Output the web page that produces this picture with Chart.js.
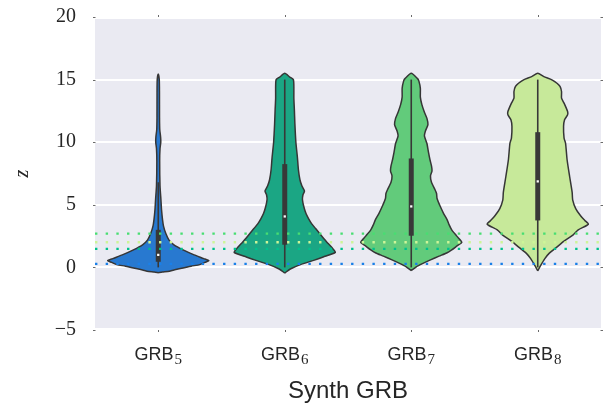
<!DOCTYPE html>
<html>
<head>
<meta charset="utf-8">
<script src="https://cdn.jsdelivr.net/npm/chart.js@4.4.1/dist/chart.umd.min.js"></script>
<style>
  html, body { margin: 0; padding: 0; background: #ffffff; }
  #wrap { width: 611px; height: 408px; }
</style>
</head>
<body>
<div id="wrap"><canvas id="chart" width="611" height="408"></canvas></div>
<script>
// Categories on the x axis (name + subscript index)
const categoryNames = ['GRB', 'GRB', 'GRB', 'GRB'];
const categorySubs = ['5', '6', '7', '8'];

// y tick values and labels
const yTickValues = [-5, 0, 5, 10, 15, 20];
const yTickLabels = ['\u22125', '0', '5', '10', '15', '20'];

// Kernel density profiles: redshift levels and relative density (1 = widest point)
const grb5Levels  = [15.45, 15.0, 14.0, 12.0, 11.0, 10.4, 10.0, 9.5, 8.5, 6.5, 5.4, 4.6, 3.8, 3.3, 2.7, 2.2, 1.8, 1.4, 1.0, 0.7, 0.53, 0.4, 0.22, 0.1, -0.05, -0.2, -0.3, -0.37, -0.42];
const grb5Density = [0, 0.02, 0.024, 0.025, 0.03, 0.047, 0.05, 0.035, 0.028, 0.035, 0.053, 0.065, 0.085, 0.104, 0.15, 0.21, 0.31, 0.49, 0.71, 0.9, 1.0, 0.92, 0.82, 0.65, 0.49, 0.31, 0.22, 0.08, 0];

const grb6Levels  = [15.5, 15.2, 15.0, 14.5, 13.5, 12.6, 11.5, 10.0, 8.8, 7.8, 7.0, 6.5, 6.1, 5.8, 5.4, 4.8, 4.3, 3.9, 3.5, 3.1, 2.7, 2.3, 1.9, 1.5, 1.2, 0.83, 0.56, 0.22, -0.13, -0.45];
const grb6Density = [0, 0.1, 0.17, 0.18, 0.18, 0.19, 0.2, 0.22, 0.25, 0.27, 0.3, 0.34, 0.39, 0.36, 0.35, 0.38, 0.42, 0.47, 0.53, 0.61, 0.69, 0.77, 0.86, 0.95, 1.0, 0.76, 0.57, 0.31, 0.11, 0];

const grb7Levels  = [15.5, 15.1, 14.9, 14.3, 13.6, 13.0, 12.4, 11.9, 11.4, 10.9, 10.5, 9.9, 9.2, 8.6, 8.1, 7.7, 7.3, 6.8, 6.2, 5.9, 5.5, 4.9, 4.3, 3.8, 3.4, 3.0, 2.5, 2.0, 1.7, 1.4, 1.15, 0.9, 0.6, 0.3, 0.05, -0.25];
const grb7Density = [0, 0.12, 0.15, 0.18, 0.18, 0.21, 0.26, 0.31, 0.33, 0.28, 0.26, 0.31, 0.34, 0.37, 0.4, 0.41, 0.38, 0.4, 0.47, 0.5, 0.51, 0.57, 0.64, 0.71, 0.75, 0.8, 0.9, 1.0, 0.9, 0.8, 0.7, 0.55, 0.38, 0.22, 0.1, 0];

const grb8Levels  = [15.51, 15.24, 14.98, 14.71, 14.45, 14.05, 13.52, 13.12, 12.45, 12.19, 11.79, 11.25, 10.33, 9.9, 8.6, 7.26, 6.0, 5.4, 4.7, 4.1, 3.75, 3.45, 3.0, 2.6, 2.1, 1.6, 1.1, 0.7, 0.1, -0.28];
const grb8Density = [0, 0.12, 0.28, 0.38, 0.44, 0.47, 0.47, 0.52, 0.59, 0.59, 0.53, 0.51, 0.52, 0.55, 0.58, 0.63, 0.68, 0.69, 0.75, 0.85, 0.93, 1.0, 0.8, 0.7, 0.52, 0.37, 0.22, 0.14, 0.05, 0];

// Box summaries per category
const whiskerLow  = [0.0, 0.0, 0.0, 0.0];
const quartile1   = [0.45, 1.81, 2.53, 3.75];
const medians     = [1.0, 4.07, 4.87, 6.87];
const quartile3   = [3.0, 8.25, 8.7, 10.8];
const whiskerHigh = [6.8, 15.0, 15.0, 15.0];

// Reference redshift per category (dotted horizontal lines)
const thresholdValues = [0.28, 1.48, 2.70, 2.01];

// Styling
const violinFill = ['#2879d0', '#1ba684', '#62cb7b', '#c7e99a'];
const lineColors = ['#1a80e8', '#00c08c', '#48de72', '#cdf598'];
const halfWidth = 0.4;
const edgeColor = '#363636';

const profiles = [
  [grb5Levels, grb5Density],
  [grb6Levels, grb6Density],
  [grb7Levels, grb7Density],
  [grb8Levels, grb8Density]
];

function violinOutline(idx) {
  const [levels, dens] = profiles[idx];
  const pts = [];
  // right side, bottom to top
  for (let k = levels.length - 1; k >= 0; k--) pts.push({x: idx + dens[k] * halfWidth, y: levels[k]});
  // left side, top to bottom
  for (let k = 1; k < levels.length; k++) pts.push({x: idx - dens[k] * halfWidth, y: levels[k]});
  return pts;
}

const datasets = [];
profiles.forEach((p, i) => {
  datasets.push({
    data: violinOutline(i), showLine: true, fill: 'shape',
    backgroundColor: violinFill[i], borderColor: edgeColor, borderWidth: 1.5,
    tension: 0.2, pointRadius: 0, order: 10
  });
  datasets.push({
    data: [{x: i, y: whiskerLow[i]}, {x: i, y: whiskerHigh[i]}], showLine: true,
    borderColor: '#383838', borderWidth: 1.6, pointRadius: 0, order: 8
  });
  datasets.push({
    data: [{x: i, y: quartile1[i]}, {x: i, y: quartile3[i]}], showLine: true,
    borderColor: '#383838', borderWidth: 5, borderCapStyle: 'butt', pointRadius: 0, order: 7
  });
  datasets.push({
    data: [{x: i, y: medians[i]}], showLine: false,
    pointStyle: 'rect', pointRadius: 1.6, backgroundColor: '#ffffff', borderWidth: 0, order: 6
  });
});
thresholdValues.forEach((v, i) => {
  datasets.push({
    data: [{x: -0.5, y: v}, {x: 3.5, y: v}], showLine: true,
    borderColor: lineColors[i], borderWidth: 2.4, borderDash: [2.4, 8.27], borderCapStyle: 'butt',
    pointRadius: 0, order: 1
  });
});

const panelPlugin = {
  id: 'panel',
  beforeDraw(chart) {
    const {ctx, chartArea: a} = chart;
    ctx.save();
    ctx.fillStyle = '#eaeaf2';
    ctx.fillRect(a.left, a.top + 2, a.right - a.left, a.bottom - a.top - 4);
    ctx.restore();
  },
  afterDraw(chart) {
    const {ctx, chartArea: a} = chart;
    const xs = chart.scales.x, ys = chart.scales.y;
    ctx.save();
    // small outer tick marks on all four sides
    ctx.strokeStyle = '#6a6a6a';
    ctx.lineWidth = 1;
    yTickValues.forEach(v => {
      const py = Math.round(ys.getPixelForValue(v)) + 0.5;
      ctx.beginPath();
      ctx.moveTo(a.left - 2, py); ctx.lineTo(a.left + 0.5, py);
      ctx.moveTo(a.right - 0.5, py); ctx.lineTo(a.right + 2, py);
      ctx.stroke();
    });
    categoryNames.forEach((_, i) => {
      const px = Math.round(xs.getPixelForValue(i)) + 0.5;
      ctx.beginPath();
      ctx.moveTo(px, a.top - 2); ctx.lineTo(px, a.top);
      ctx.moveTo(px, a.bottom); ctx.lineTo(px, a.bottom + 2);
      ctx.stroke();
    });
    // category labels with subscripted index
    ctx.fillStyle = '#262626';
    ctx.textBaseline = 'alphabetic';
    categoryNames.forEach((name, i) => {
      const cx = xs.getPixelForValue(i);
      ctx.font = '18px "Liberation Sans", Arial, sans-serif';
      const w1 = ctx.measureText(name).width;
      ctx.font = '15px "Liberation Serif", "Times New Roman", serif';
      const w2 = ctx.measureText(categorySubs[i]).width;
      const x0 = cx - (w1 + 1 + w2) / 2;
      ctx.font = '18px "Liberation Sans", Arial, sans-serif';
      ctx.fillText(name, x0, a.bottom + 30);
      ctx.font = '15px "Liberation Serif", "Times New Roman", serif';
      ctx.fillText(categorySubs[i], x0 + w1 + 1, a.bottom + 34);
    });
    ctx.restore();
  }
};

new Chart(document.getElementById('chart'), {
  type: 'scatter',
  data: {datasets},
  options: {
    responsive: false,
    animation: false,
    events: [],
    layout: {padding: {top: 17, right: 10, left: 0, bottom: 0}},
    plugins: {legend: {display: false}, tooltip: {enabled: false}},
    elements: {point: {radius: 0}},
    scales: {
      x: {
        type: 'linear', min: -0.5, max: 3.5,
        grid: {display: false}, border: {display: false},
        ticks: {display: false},
        afterFit(scale) {
          scale.height = 78;
          scale.paddingLeft = 0; scale.paddingRight = 0;
        },
        title: {
          display: true, text: 'Synth GRB', color: '#262626',
          font: {family: '"Liberation Sans", Arial, sans-serif', size: 24},
          padding: {top: 0, bottom: 2.6}
        }
      },
      y: {
        type: 'linear', min: -5, max: 20,
        afterBuildTicks(scale) { scale.ticks = yTickValues.map(v => ({value: v})); },
        grid: {color: '#ffffff', lineWidth: 2, drawTicks: false},
        border: {display: false},
        ticks: {
          padding: 19, color: '#262626',
          font: {family: '"Liberation Serif", "Times New Roman", serif', size: 20},
          callback: (v) => yTickLabels[yTickValues.indexOf(v)]
        },
        afterFit(scale) {
          scale.width = 95;
          scale.paddingTop = 0; scale.paddingBottom = 0;
        },
        title: {
          display: true, text: 'z', color: '#262626',
          font: {family: '"Liberation Serif", "Times New Roman", serif', size: 20, style: 'italic'},
          padding: {top: 10.5, bottom: 0}
        }
      }
    }
  },
  plugins: [panelPlugin]
});
</script>
</body>
</html>
